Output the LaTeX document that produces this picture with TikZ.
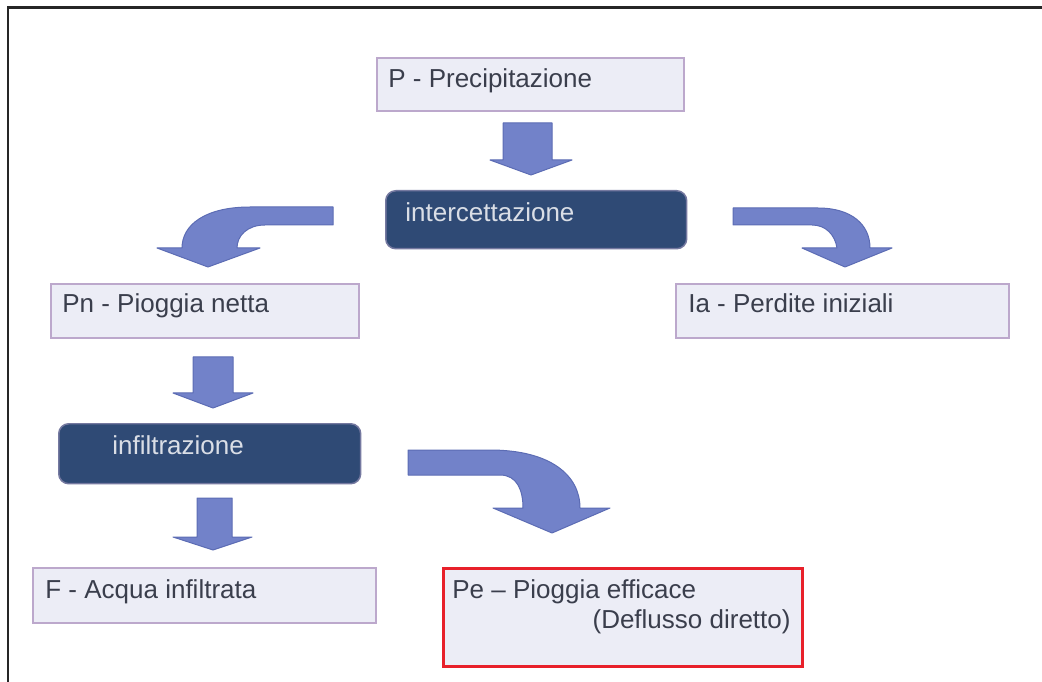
\documentclass[tikz,border=0pt]{standalone}
\usepackage{fontspec}
\setmainfont{Liberation Sans}
\usetikzlibrary{calc}

\definecolor{boxfill}{HTML}{ECEDF6}
\definecolor{boxline}{HTML}{BCA8CC}
\definecolor{darkfill}{HTML}{2F4A75}
\definecolor{arrowfill}{HTML}{7282C9}
\definecolor{arrowline}{HTML}{5C6CB4}
\definecolor{txtcol}{HTML}{3A3E4C}
\definecolor{pered}{HTML}{E8202A}

\tikzset{
  lightbox/.style={draw=boxline, fill=boxfill, line width=0.04cm, anchor=north west, inner sep=0pt},
  darkbox/.style={draw=boxline!50!darkfill, fill=darkfill, rounded corners=0.2cm, anchor=north west, inner sep=0pt, line width=0.03cm},
  boxtext/.style={anchor=base west, inner sep=0pt, text=txtcol, font=\fontsize{14.8}{17}\selectfont},
  darktext/.style={boxtext, text=white!82!darkfill},
  blockarrow/.style={fill=arrowfill, draw=arrowline, line width=0.02cm, line join=round}
}

\begin{document}
\begin{tikzpicture}[x=0.02cm,y=-0.02cm]
        \useasboundingbox (0,0) rectangle (1042,682);
        \fill[white] (0,0) rectangle (1042,682);
        % frame
        \draw[line width=0.06cm, black!85] (8,682) -- (8,7.5) -- (1042,7.5);

        % boxes
        \node[lightbox, minimum width=6.14cm, minimum height=1.06cm] (pbox) at (376,57) {};
        \node[darkbox, minimum width=6.02cm, minimum height=1.16cm] (icbox) at (385,190) {};
        \node[lightbox, minimum width=6.16cm, minimum height=1.08cm] (pnbox) at (50,283) {};
        \node[lightbox, minimum width=6.66cm, minimum height=1.08cm] (iabox) at (675,283) {};
        \node[darkbox, minimum width=6.04cm, minimum height=1.2cm] (ifbox) at (58,423) {};
        \node[lightbox, minimum width=6.86cm, minimum height=1.1cm] (fbox) at (32,567) {};
        \node[lightbox, draw=pered, line width=0.06cm, minimum width=7.18cm, minimum height=1.96cm] (pebox) at (442,567) {};

        % texts
        \node[boxtext] (ptxt) at ($(pbox.north west)+(12,31)$) {P - Precipitazione};
        \node[darktext] (ictxt) at ($(icbox.north west)+(20,32)$) {intercettazione};
        \node[boxtext] (pntxt) at ($(pnbox.north west)+(12,30)$) {Pn - Pioggia netta};
        \node[boxtext] (iatxt) at ($(iabox.north west)+(13,30)$) {Ia - Perdite iniziali};
        \node[darktext] (iftxt) at ($(ifbox.north west)+(54,32)$) {infiltrazione};
        \node[boxtext] (ftxt) at ($(fbox.north west)+(13,31)$) {F - Acqua infiltrata};
        \node[boxtext] (petxt) at ($(pebox.north west)+(10,31)$) {Pe – Pioggia efficace};
        \node[boxtext, anchor=base east] (petxtb) at ($(pebox.north east)+(-13,61)$) {(Deflusso diretto)};

        % straight arrows
        \draw[blockarrow] (503,123) -- (552,123) -- (552,160) -- (572,160) -- (531,175) -- (490,160) -- (503,160) -- cycle;
        \draw[blockarrow] (193,357) -- (233,357) -- (233,393) -- (253,393) -- (213,408) -- (173,393) -- (193,393) -- cycle;
        \draw[blockarrow] (197,498) -- (232,498) -- (232,537) -- (252,537) -- (213,550) -- (173,537) -- (197,537) -- cycle;

        % curved arrows
        \draw[blockarrow] (333,207) -- (250,207) .. controls (205,207) and (182,225) .. (182,248) -- (157,248) -- (208,267) -- (260,248) -- (237,248) .. controls (237,236) and (247,225) .. (265,225) -- (333,225) -- cycle;
        \draw[blockarrow] (733,208) -- (818,208) .. controls (852,208) and (870,225) .. (870,248) -- (892,248) -- (845,267) -- (802,248) -- (837,248) .. controls (835,235) and (826,225) .. (812,225) -- (733,225) -- cycle;
        \draw[blockarrow] (408,450) -- (490,450) .. controls (550,450) and (580,475) .. (580,508) -- (610,508) -- (552,533) -- (493,508) -- (523,508) .. controls (523,490) and (517,475) .. (500,475) -- (408,475) -- cycle;
    \end{tikzpicture}
\end{document}
